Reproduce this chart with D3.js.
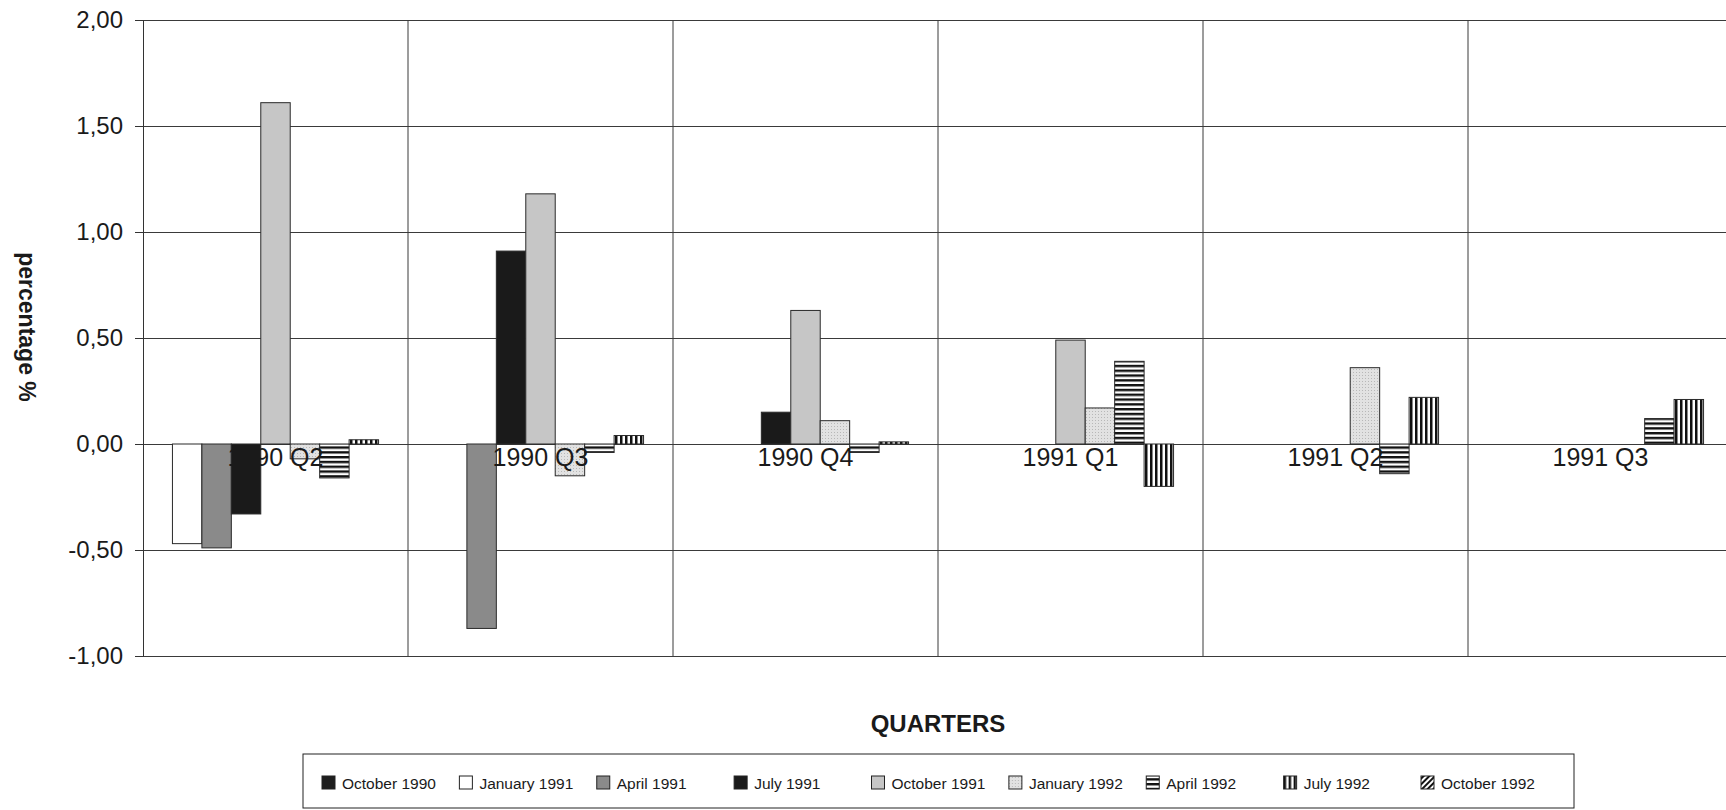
<html>
<head>
<meta charset="utf-8">
<script src="https://cdnjs.cloudflare.com/ajax/libs/d3/7.8.5/d3.min.js"></script>
<style>
  body { margin: 0; background: #fff; }
  text { font-family: "Liberation Sans", Arial, sans-serif; fill: #1a1a1a; }
</style>
</head>
<body>
<svg width="1726" height="810"></svg>
<script>
// quarters on the x axis
const categories = ["1990 Q2", "1990 Q3", "1990 Q4", "1991 Q1", "1991 Q2", "1991 Q3"];
const seriesNames = ["October 1990", "January 1991", "April 1991", "July 1991", "October 1991",
                     "January 1992", "April 1992", "July 1992", "October 1992"];

// one array per release, one value per quarter (null = no bar)
const oct1990 = [null, null, null, null, null, null];
const jan1991 = [-0.47, null, null, null, null, null];
const apr1991 = [-0.49, -0.87, null, null, null, null];
const jul1991 = [-0.33, 0.91, 0.15, null, null, null];
const oct1991 = [1.61, 1.18, 0.63, 0.49, null, null];
const jan1992 = [-0.07, -0.15, 0.11, 0.17, 0.36, null];
const apr1992 = [-0.16, -0.04, -0.04, 0.39, -0.14, 0.12];
const jul1992 = [0.02, 0.04, 0.01, -0.20, 0.22, 0.21];
const oct1992 = [null, null, null, null, null, null];

const yTicks = [-1, -0.5, 0, 0.5, 1, 1.5, 2];

const seriesValues = [oct1990, jan1991, apr1991, jul1991, oct1991, jan1992, apr1992, jul1992, oct1992];
const fills = ["#1e1e1e", "#ffffff", "#8a8a8a", "#1a1a1a", "#c6c6c6",
               "url(#dots)", "url(#hstripe)", "url(#vstripe)", "url(#diag)"];

const svg = d3.select("svg");
const m = { left: 143, right: 1733, top: 20, bottom: 656 };

// patterns
const defs = svg.append("defs");
const dots = defs.append("pattern").attr("id", "dots").attr("patternUnits", "userSpaceOnUse")
  .attr("width", 3).attr("height", 3);
dots.append("rect").attr("width", 3).attr("height", 3).attr("fill", "#e2e2e2");
dots.append("rect").attr("width", 1).attr("height", 1).attr("fill", "#b8b8b8");

const hs = defs.append("pattern").attr("id", "hstripe").attr("patternUnits", "userSpaceOnUse")
  .attr("width", 6).attr("height", 4.8);
hs.append("rect").attr("width", 6).attr("height", 4.8).attr("fill", "#fff");
hs.append("rect").attr("width", 6).attr("height", 2.4).attr("fill", "#111");

const vs = defs.append("pattern").attr("id", "vstripe").attr("patternUnits", "userSpaceOnUse")
  .attr("width", 5).attr("height", 6);
vs.append("rect").attr("width", 5).attr("height", 6).attr("fill", "#fff");
vs.append("rect").attr("width", 2.5).attr("height", 6).attr("fill", "#111");

const dg = defs.append("pattern").attr("id", "diag").attr("patternUnits", "userSpaceOnUse")
  .attr("width", 4).attr("height", 4).attr("patternTransform", "rotate(45)");
dg.append("rect").attr("width", 4).attr("height", 4).attr("fill", "#fff");
dg.append("rect").attr("width", 2).attr("height", 4).attr("fill", "#111");

// scales
const x = d3.scaleBand().domain(categories).range([m.left, m.right]).padding(0);
const xs = d3.scaleBand().domain(seriesNames).range([0, x.bandwidth()]).padding(0);
const y = d3.scaleLinear().domain([-1, 2]).range([m.bottom, m.top]);

const fmt = d3.formatLocale({ decimal: ",", thousands: ".", grouping: [3], currency: ["", ""], minus: "-" }).format(".2f");

// horizontal grid
svg.append("g")
  .attr("transform", `translate(${m.left},0)`)
  .call(d3.axisLeft(y).tickValues(yTicks).tickSize(-(m.right - m.left)).tickFormat(""))
  .call(g => g.select(".domain").remove())
  .call(g => g.selectAll("line").attr("stroke", "#3a3a3a"));

// vertical grid at category boundaries
svg.append("g").selectAll("line")
  .data(categories)
  .join("line")
  .attr("x1", d => x(d) + x.bandwidth())
  .attr("x2", d => x(d) + x.bandwidth())
  .attr("y1", m.top).attr("y2", m.bottom)
  .attr("stroke", "#3a3a3a");

// y axis
svg.append("g")
  .attr("transform", `translate(${m.left},0)`)
  .call(d3.axisLeft(y).tickValues(yTicks).tickSize(8).tickPadding(12).tickFormat(fmt))
  .call(g => g.select(".domain").attr("stroke", "#333"))
  .call(g => g.selectAll("line").attr("stroke", "#333"))
  .call(g => g.selectAll("text").attr("font-size", 24).attr("fill", "#1a1a1a")
    .attr("font-family", "Liberation Sans, Arial, sans-serif"));

// bars
const groups = svg.append("g").selectAll("g")
  .data(seriesNames)
  .join("g")
  .attr("fill", (d, i) => fills[i]);

groups.selectAll("rect")
  .data((s, si) => categories.map((c, ci) => ({ s, c, v: seriesValues[si][ci] })).filter(d => d.v !== null))
  .join("rect")
  .attr("x", d => x(d.c) + xs(d.s))
  .attr("width", xs.bandwidth())
  .attr("y", d => y(Math.max(0, d.v)))
  .attr("height", d => Math.abs(y(d.v) - y(0)))
  .attr("stroke", "#2a2a2a")
  .attr("stroke-width", 1);

// category labels along the zero line
svg.append("g")
  .attr("transform", `translate(0,${y(0)})`)
  .call(d3.axisBottom(x).tickSize(0).tickPadding(4))
  .call(g => g.select(".domain").remove())
  .call(g => g.selectAll("text").attr("font-size", 25).attr("fill", "#1a1a1a")
    .attr("font-family", "Liberation Sans, Arial, sans-serif"));

// axis titles
svg.append("text")
  .attr("transform", `translate(19,327) rotate(90)`)
  .attr("text-anchor", "middle")
  .attr("font-weight", "bold").attr("font-size", 23)
  .text("percentage %");

svg.append("text")
  .attr("x", (m.left + m.right) / 2).attr("y", 732)
  .attr("text-anchor", "middle")
  .attr("font-weight", "bold").attr("font-size", 24)
  .text("QUARTERS");

// legend
const lg = svg.append("g");
lg.append("rect").attr("x", 303).attr("y", 754).attr("width", 1271).attr("height", 54)
  .attr("fill", "#fff").attr("stroke", "#222");
const lx = d3.scalePoint().domain(seriesNames).range([322, 1421]);
const items = lg.selectAll("g.item").data(seriesNames).join("g")
  .attr("class", "item")
  .attr("transform", d => `translate(${lx(d)},783)`);
items.append("rect")
  .attr("x", 0).attr("y", -7).attr("width", 13).attr("height", 13)
  .attr("fill", (d, i) => fills[i]).attr("stroke", "#222");
items.append("text")
  .attr("x", 20).attr("y", 5.5)
  .attr("font-size", 15.5)
  .text(d => d);
</script>
</body>
</html>
